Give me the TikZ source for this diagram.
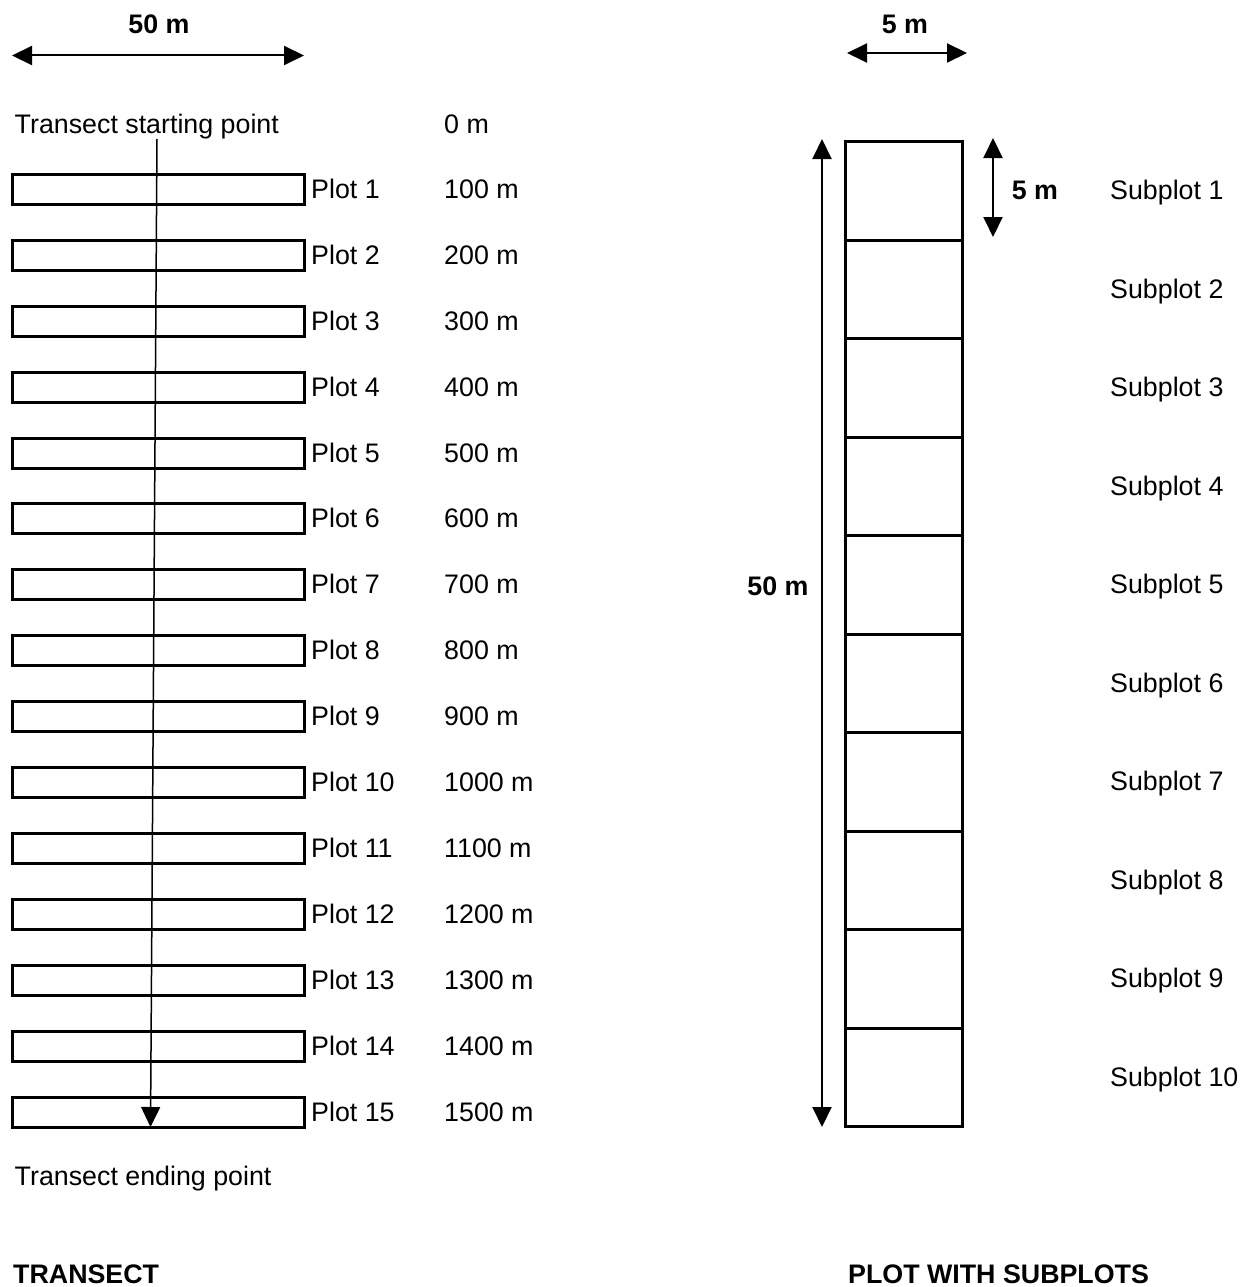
\documentclass[tikz,border=0pt]{standalone}
\usepackage{fontspec}
\setmainfont{Liberation Sans}
\usetikzlibrary{arrows.meta}
\begin{document}
\begin{tikzpicture}[x=1pt,y=-1pt,
  lbl/.style={anchor=base west,inner sep=0pt,font=\fontsize{26.8}{30}\selectfont},
  blbl/.style={anchor=base,inner sep=0pt,font=\fontsize{26.8}{30}\selectfont\bfseries},
  blblw/.style={anchor=base west,inner sep=0pt,font=\fontsize{26.8}{30}\selectfont\bfseries},
  plotbox/.style={draw,line width=3pt,minimum width=291.5pt,minimum height=30pt,inner sep=0pt},
  cellbox/.style={draw,line width=3pt,minimum width=117pt,minimum height=98.5pt,inner sep=0pt},
  tip/.tip={Triangle[length=20pt,width=19pt]},
  dimline/.style={line width=2pt,tip-tip},
  flow/.style={line width=1.5pt,-tip}]
\useasboundingbox (0,0) rectangle (1242,1287);

% ---- Transect ----
\coordinate (wl) at (12,55.5);
\coordinate (wr) at (304,55.5);
\draw[dimline] (wl) -- (wr);
\node[blbl] (w50) at (159,34) {50 m};

\node[lbl] (tstart) at (14.5,133) {Transect starting point};
\node[lbl] (d0) at (444,133) {0 m};

\foreach \i in {1,...,15} {
  \pgfmathsetmacro\yc{189.5+(\i-1)*65.893}
  \node[plotbox] (p\i) at (158.5,\yc) {};
  \node[lbl] (pl\i) at (311,\yc+9) {Plot \i};
  \node[lbl] (d\i) at (444,\yc+9) {\i00 m};
}

\coordinate (ts) at (157,139);
\coordinate (te) at (150.5,1127);
\draw[flow] (ts) -- (te);

\node[lbl] (tend) at (14.5,1185) {Transect ending point};
\node[blblw] (ttl1) at (13,1283.5) {TRANSECT};

% ---- Plot with subplots ----
\coordinate (sl) at (847,53);
\coordinate (sr) at (967,53);
\draw[dimline] (sl) -- (sr);
\node[blbl] (w5) at (905,34) {5 m};

\foreach \i in {1,...,10} {
  \pgfmathsetmacro\yc{141.5+(\i-0.5)*98.5}
  \node[cellbox] (c\i) at (904,\yc) {};
  \node[lbl] (sp\i) at (1110,\yc+9) {Subplot \i};
}

\coordinate (bt) at (822,139);
\coordinate (bb) at (822,1127);
\draw[dimline] (bt) -- (bb);
\node[blbl] (h50) at (778,595) {50 m};

\coordinate (st) at (993,138);
\coordinate (sb) at (993,237);
\draw[dimline] (st) -- (sb);
\node[blbl] (h5) at (1035,199) {5 m};

\node[blblw] (ttl2) at (848,1283.5) {PLOT WITH SUBPLOTS};
\end{tikzpicture}
\end{document}
